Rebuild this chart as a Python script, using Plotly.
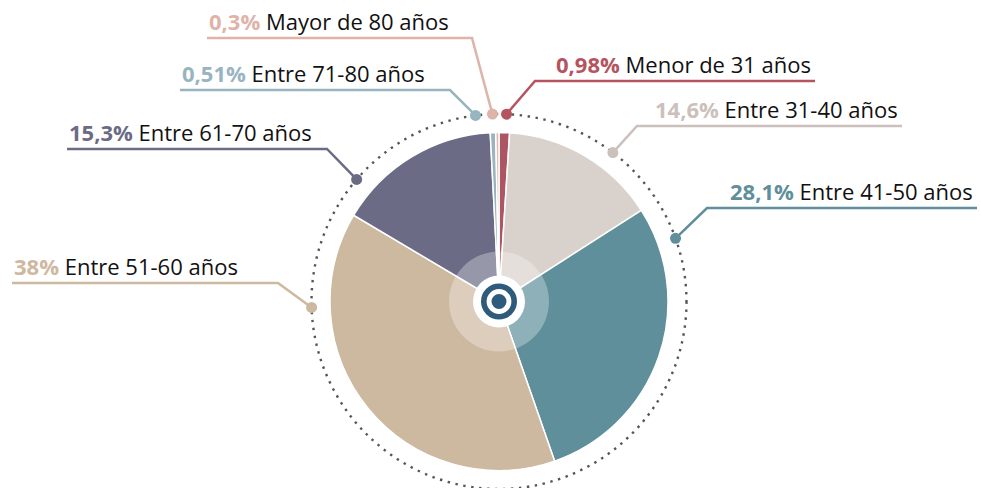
import math
import plotly.graph_objects as go

# ---------------- data ----------------
categories = ["Menor de 31 años", "Entre 31-40 años", "Entre 41-50 años",
              "Entre 51-60 años", "Entre 61-70 años", "Entre 71-80 años",
              "Mayor de 80 años"]
values = [0.98, 14.6, 28.1, 38, 15.3, 0.51, 0.3]
value_labels = ["0,98%", "14,6%", "28,1%", "38%", "15,3%", "0,51%", "0,3%"]

# ---------------- style ----------------
slice_colors = ["#ad5562", "#d9d1cb", "#5e8f9a", "#cdb8a0", "#6b6b86", "#9ab4bf", "#e2b9ae"]
label_colors = ["#b5535f", "#cbc0bb", "#5e8f9a", "#cdb8a0", "#6b6b86", "#98b4bf", "#deb4aa"]
W, H = 981, 488
CX, CY = 499, 301.5          # pie centre (px)
R_PIE = 169
R_DOTS = 187.5
FONT = "Open Sans"

# label layout: anchor angle on dotted ring (deg clockwise from top),
# elbow point (px), far end of underline (px), side
label_layout = [
    dict(angle=2.3, elbow=(535, 81), end=815, side="right"),
    dict(angle=37.4, elbow=(637, 126), end=902, side="right"),
    dict(angle=70.3, elbow=(707, 208), end=977, side="right"),
    dict(angle=-91.8, elbow=(278, 283), end=12, side="left"),
    dict(angle=-49.4, elbow=(327, 149), end=67, side="left"),
    dict(angle=-7.2, elbow=(450, 90), end=180, side="left"),
    dict(angle=-2.0, elbow=(472, 38), end=207, side="left"),
]

fig = go.Figure()

# pie through plotly's own scale
fig.add_trace(go.Pie(
    labels=categories, values=values, sort=False, direction="clockwise",
    rotation=0, textinfo="none", hoverinfo="label+percent",
    marker=dict(colors=slice_colors, line=dict(color="white", width=1.5)),
    domain=dict(x=[(CX - R_PIE) / W, (CX + R_PIE) / W],
                y=[(H - CY - R_PIE) / H, (H - CY + R_PIE) / H]),
    showlegend=False,
))

shapes = []
# dotted ring
shapes.append(dict(type="circle", xref="x", yref="y", layer="below",
                   x0=CX - R_DOTS, x1=CX + R_DOTS, y0=CY - R_DOTS, y1=CY + R_DOTS,
                   line=dict(color="#555555", width=2.4, dash="2.4px,5.6px")))
# centre decoration
def circ(r, fill, line_color=None, lw=0):
    return dict(type="circle", xref="x", yref="y", layer="above",
                x0=CX - r, x1=CX + r, y0=CY - r, y1=CY + r,
                fillcolor=fill, line=dict(color=line_color or fill, width=lw))
shapes.append(circ(50, "rgba(255,255,255,0.3)"))
shapes.append(circ(26, "white"))
shapes.append(circ(15.2, "white", "#2e5b7b", 5.6))
shapes.append(circ(7.5, "#2e5b7b"))

annotations = []
for lab, cat, col, lay in zip(value_labels, categories, label_colors, label_layout):
    a = math.radians(lay["angle"])
    dx, dy = CX + R_DOTS * math.sin(a), CY - R_DOTS * math.cos(a)
    ex, ey = lay["elbow"]
    fig.add_trace(go.Scatter(x=[dx, ex, lay["end"]], y=[dy, ey, ey], mode="lines",
                             line=dict(color=col, width=2.5), hoverinfo="skip",
                             showlegend=False))
    fig.add_trace(go.Scatter(x=[dx], y=[dy], mode="markers",
                             marker=dict(color=col, size=11), hoverinfo="skip",
                             showlegend=False))
    text = f"<b><span style='color:{col}'>{lab}</span></b> {cat}"
    if lay["side"] == "right":
        annotations.append(dict(x=lay["end"] - 2, y=ey, xref="x", yref="y",
                                xanchor="right", yanchor="bottom", text=text,
                                showarrow=False))
    else:
        annotations.append(dict(x=lay["end"], y=ey, xref="x", yref="y",
                                xanchor="left", yanchor="bottom", text=text,
                                showarrow=False))

fig.update_layout(
    width=W, height=H, margin=dict(l=0, r=0, t=0, b=0),
    paper_bgcolor="white", plot_bgcolor="rgba(0,0,0,0)",
    font=dict(family=FONT, size=22, color="#111111"),
    xaxis=dict(range=[0, W], visible=False, fixedrange=True),
    yaxis=dict(range=[H, 0], visible=False, fixedrange=True),
    shapes=shapes, annotations=annotations, showlegend=False,
)

fig.write_html("out.html", config={"displayModeBar": False},
               post_script="document.body.style.margin='0';")
